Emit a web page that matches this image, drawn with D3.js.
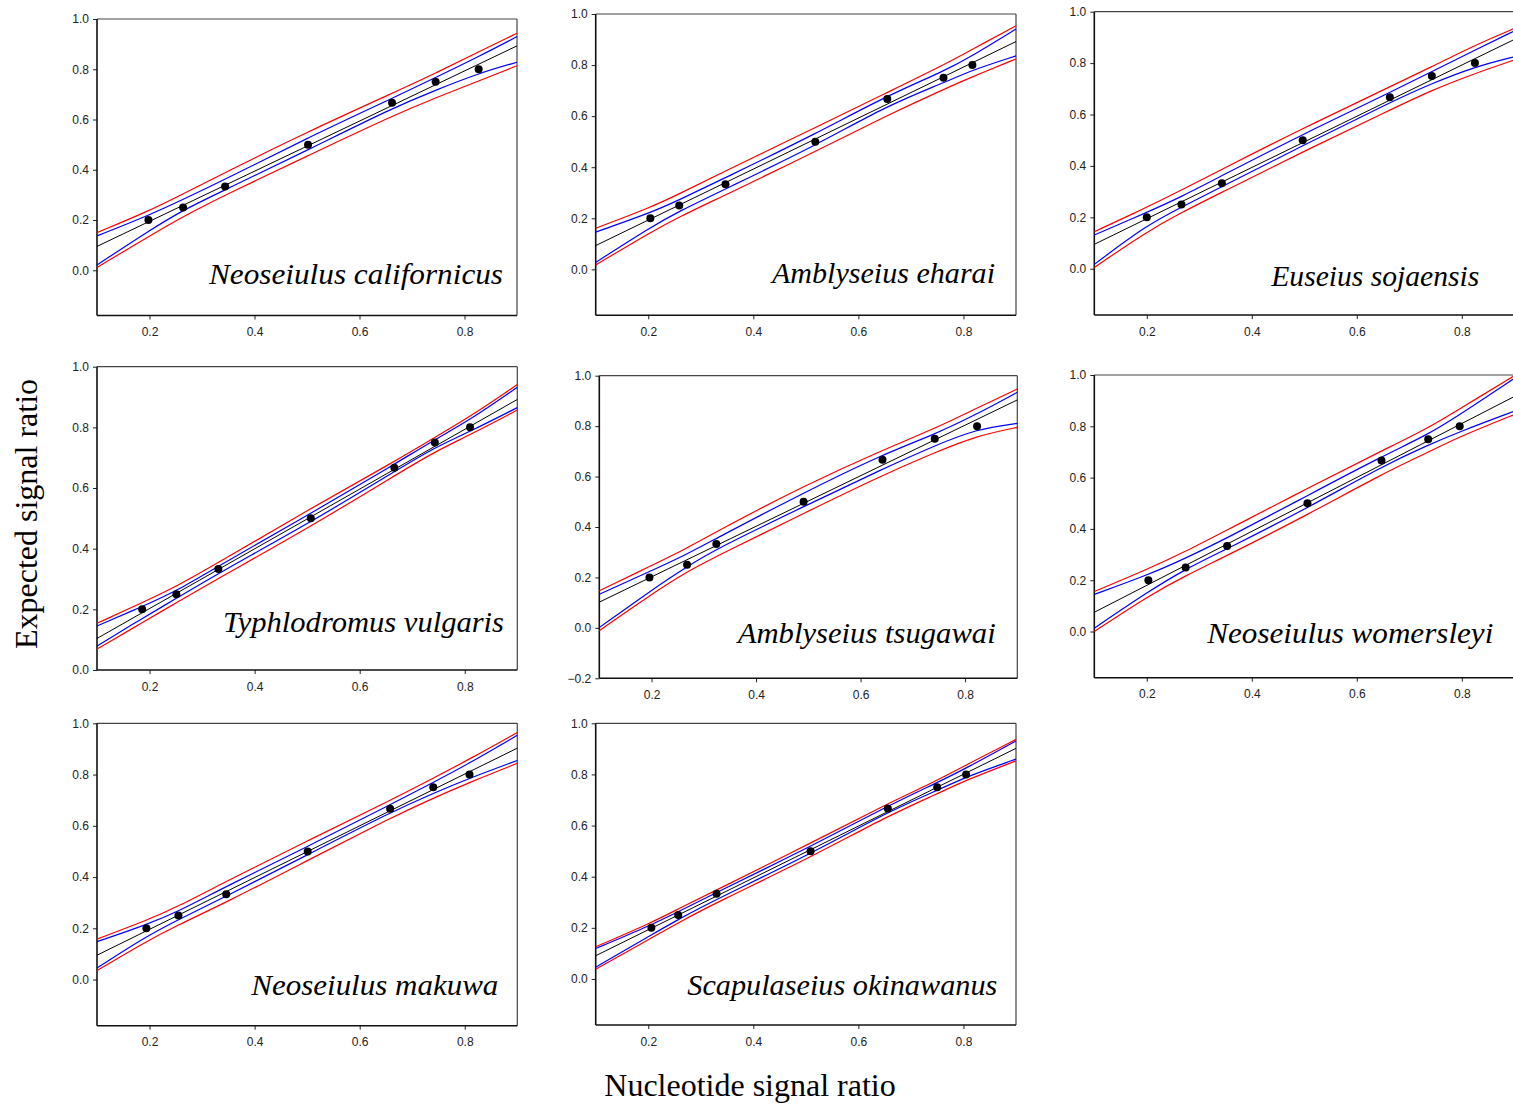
<!DOCTYPE html>
<html>
<head>
<meta charset="utf-8">
<script src="https://cdn.jsdelivr.net/npm/d3@7"></script>
<style>
  body { margin: 0; background: #fff; }
  svg { display: block; }
</style>
</head>
<body>
<svg id="chart" width="1513" height="1111"></svg>
<script>
// ---------------- DATA ----------------
const species = [
  "Neoseiulus californicus", "Amblyseius eharai", "Euseius sojaensis",
  "Typhlodromus vulgaris", "Amblyseius tsugawai", "Neoseiulus womersleyi",
  "Neoseiulus makuwa", "Scapulaseius okinawanus"
];

// expected signal ratio (y of the points, same for all species)
const expected = [0.2, 0.25, 0.333, 0.5, 0.667, 0.75, 0.8];

// nucleotide signal ratio (x of the points) per species
const nucleotide = [
  [0.198, 0.264, 0.344, 0.502, 0.662, 0.745, 0.827],
  [0.204, 0.259, 0.347, 0.518, 0.655, 0.762, 0.817],
  [0.200, 0.266, 0.343, 0.497, 0.663, 0.743, 0.825],
  [0.186, 0.251, 0.331, 0.507, 0.666, 0.743, 0.810],
  [0.196, 0.268, 0.324, 0.491, 0.642, 0.742, 0.823],
  [0.203, 0.274, 0.353, 0.506, 0.647, 0.736, 0.796],
  [0.194, 0.255, 0.346, 0.501, 0.658, 0.740, 0.809],
  [0.206, 0.257, 0.330, 0.509, 0.656, 0.750, 0.805]
];

// x range of the fitted curves
const xStart = 0.1, xEnd = 0.9;

// regression line: value at xStart and at xEnd
const fitLine = [
  [0.095, 0.893], [0.093, 0.892], [0.095, 0.892], [0.104, 0.892],
  [0.102, 0.904], [0.075, 0.916], [0.095, 0.903], [0.091, 0.902]
];

// bands, read at xStart, at each point's x, and at xEnd
const predUpper = [ // red, upper
  [0.150, 0.235, 0.304, 0.389, 0.552, 0.704, 0.784, 0.870, 0.943],
  [0.161, 0.242, 0.295, 0.386, 0.555, 0.693, 0.800, 0.862, 0.954],
  [0.144, 0.239, 0.306, 0.387, 0.546, 0.708, 0.786, 0.870, 0.935],
  [0.154, 0.222, 0.275, 0.354, 0.533, 0.687, 0.767, 0.835, 0.941],
  [0.147, 0.243, 0.316, 0.382, 0.563, 0.705, 0.790, 0.872, 0.947],
  [0.156, 0.244, 0.312, 0.396, 0.558, 0.704, 0.793, 0.868, 0.997],
  [0.158, 0.230, 0.286, 0.383, 0.542, 0.699, 0.786, 0.860, 0.964],
  [0.126, 0.220, 0.274, 0.348, 0.531, 0.687, 0.776, 0.837, 0.937]
];
const confUpper = [ // blue, upper
  [0.137, 0.218, 0.282, 0.362, 0.528, 0.684, 0.767, 0.850, 0.930],
  [0.146, 0.221, 0.272, 0.359, 0.530, 0.681, 0.775, 0.836, 0.941],
  [0.131, 0.219, 0.280, 0.362, 0.523, 0.686, 0.767, 0.851, 0.925],
  [0.145, 0.209, 0.260, 0.343, 0.516, 0.678, 0.760, 0.824, 0.932],
  [0.133, 0.223, 0.292, 0.355, 0.536, 0.688, 0.767, 0.848, 0.934],
  [0.145, 0.221, 0.286, 0.364, 0.530, 0.682, 0.768, 0.845, 0.987],
  [0.148, 0.214, 0.266, 0.364, 0.519, 0.682, 0.769, 0.844, 0.953],
  [0.119, 0.211, 0.263, 0.338, 0.518, 0.677, 0.768, 0.824, 0.931]
];
const confLower = [ // blue, lower
  [0.021, 0.156, 0.240, 0.320, 0.479, 0.645, 0.717, 0.784, 0.828],
  [0.027, 0.164, 0.228, 0.315, 0.484, 0.642, 0.730, 0.781, 0.836],
  [0.017, 0.170, 0.240, 0.319, 0.479, 0.647, 0.721, 0.786, 0.825],
  [0.079, 0.170, 0.236, 0.319, 0.487, 0.654, 0.734, 0.786, 0.865],
  [0.001, 0.144, 0.243, 0.313, 0.481, 0.630, 0.723, 0.789, 0.811],
  [0.013, 0.156, 0.244, 0.322, 0.481, 0.643, 0.727, 0.779, 0.859],
  [0.045, 0.169, 0.234, 0.325, 0.487, 0.652, 0.727, 0.786, 0.855],
  [0.046, 0.172, 0.233, 0.312, 0.489, 0.654, 0.737, 0.791, 0.860]
];
const predLower = [ // red, lower
  [0.011, 0.134, 0.214, 0.300, 0.456, 0.614, 0.687, 0.753, 0.814],
  [0.017, 0.145, 0.206, 0.291, 0.461, 0.603, 0.705, 0.754, 0.824],
  [0.005, 0.144, 0.219, 0.297, 0.455, 0.617, 0.695, 0.760, 0.812],
  [0.069, 0.156, 0.222, 0.302, 0.473, 0.640, 0.720, 0.775, 0.857],
  [-0.011, 0.128, 0.223, 0.283, 0.454, 0.606, 0.695, 0.762, 0.795],
  [0.000, 0.139, 0.218, 0.296, 0.455, 0.613, 0.699, 0.760, 0.846],
  [0.035, 0.149, 0.214, 0.301, 0.465, 0.630, 0.708, 0.769, 0.844],
  [0.038, 0.160, 0.220, 0.299, 0.475, 0.638, 0.724, 0.778, 0.853]
];

// axes
const yMin = [-0.18, -0.18, -0.18, 0, -0.2, -0.18, -0.18, -0.18];
const yTicks = [
  [0, 0.2, 0.4, 0.6, 0.8, 1.0], [0, 0.2, 0.4, 0.6, 0.8, 1.0], [0, 0.2, 0.4, 0.6, 0.8, 1.0],
  [0, 0.2, 0.4, 0.6, 0.8, 1.0], [-0.2, 0, 0.2, 0.4, 0.6, 0.8, 1.0], [0, 0.2, 0.4, 0.6, 0.8, 1.0],
  [0, 0.2, 0.4, 0.6, 0.8, 1.0], [0, 0.2, 0.4, 0.6, 0.8, 1.0]
];
const xTicks = [0.2, 0.4, 0.6, 0.8];
const xTitle = "Nucleotide signal ratio";
const yTitle = "Expected signal ratio";

// ---------------- LAYOUT ----------------
// frame: left, right, top, bottom (px)
const frames = [
  [97, 517, 19, 315.5], [595.7, 1016, 14, 315.3], [1094.3, 1514.3, 11.7, 315],
  [97, 517.3, 366.7, 670], [599.3, 1017.3, 375.7, 678.3], [1094.3, 1514.3, 375, 677.7],
  [97, 517.3, 723.3, 1025.7], [595.7, 1016, 723.3, 1025]
];
// species label: right end x, baseline y, width
const labelPos = [
  [503, 284, 294], [995, 283.3, 223], [1479.3, 286, 208],
  [504, 631.7, 281], [995.7, 642.7, 258], [1493.3, 642.7, 286],
  [498.3, 995, 247], [997.3, 995, 310]
];

const svg = d3.select("#chart");
const fmt = d3.format(".1f");

species.forEach((name, i) => {
  const [l, r, t, b] = frames[i];
  const x = d3.scaleLinear().domain([xStart, xEnd]).range([l, r]);
  const y = d3.scaleLinear().domain([yMin[i], 1.0]).range([b, t]);
  const g = svg.append("g");

  // frame top/right
  g.append("line").attr("x1", l).attr("x2", r).attr("y1", t).attr("y2", t)
    .attr("stroke", "#444").attr("stroke-width", 1.2);
  g.append("line").attr("x1", r).attr("x2", r).attr("y1", t).attr("y2", b)
    .attr("stroke", "#444").attr("stroke-width", 1.2);

  // axes
  const ya = g.append("g").attr("transform", `translate(${l},0)`)
    .call(d3.axisLeft(y).tickValues(yTicks[i]).tickFormat(fmt).tickSize(4).tickSizeOuter(0).tickPadding(4));
  const xa = g.append("g").attr("transform", `translate(0,${b})`)
    .call(d3.axisBottom(x).tickValues(xTicks).tickFormat(fmt).tickSize(4).tickSizeOuter(0).tickPadding(8));
  [ya, xa].forEach(a => {
    a.select(".domain").remove();
    a.selectAll(".tick line").attr("stroke", "#222").attr("stroke-width", 1);
    a.selectAll(".tick text").attr("font-family", "'Liberation Sans', Arial, sans-serif")
      .attr("font-size", 12).attr("fill", "#222");
  });
  g.append("line").attr("x1", l).attr("x2", l).attr("y1", t).attr("y2", b)
    .attr("stroke", "#111").attr("stroke-width", 1.6);
  g.append("line").attr("x1", l).attr("x2", r).attr("y1", b).attr("y2", b)
    .attr("stroke", "#111").attr("stroke-width", 1.6);

  const bandX = [xStart, ...nucleotide[i], xEnd];
  const smooth = d3.line().x(d => x(d[0])).y(d => y(d[1])).curve(d3.curveBasis);
  const straight = d3.line().x(d => x(d[0])).y(d => y(d[1]));
  const series = [
    [predUpper[i], "#ff0000"], [predLower[i], "#ff0000"],
    [confUpper[i], "#0000ff"], [confLower[i], "#0000ff"]
  ];
  series.forEach(([vals, col]) => {
    g.append("path").datum(bandX.map((xv, k) => [xv, vals[k]]))
      .attr("d", smooth).attr("fill", "none").attr("stroke", col).attr("stroke-width", 1.2);
  });
  g.append("path").datum([[xStart, fitLine[i][0]], [xEnd, fitLine[i][1]]])
    .attr("d", straight).attr("fill", "none").attr("stroke", "#000").attr("stroke-width", 1);

  g.selectAll("circle.pt").data(nucleotide[i].map((xv, k) => [xv, expected[k]]))
    .enter().append("circle").attr("class", "pt")
    .attr("cx", d => x(d[0])).attr("cy", d => y(d[1])).attr("r", 4).attr("fill", "#000");

  const [lx, ly, lw] = labelPos[i];
  g.append("text").attr("x", lx - lw).attr("y", ly)
    .attr("font-family", "'Liberation Serif', 'Times New Roman', serif")
    .attr("font-style", "italic").attr("font-size", 30).attr("fill", "#000")
    .attr("textLength", lw).attr("lengthAdjust", "spacingAndGlyphs")
    .text(name);
});

svg.append("text").attr("transform", "translate(37,514) rotate(-90)")
  .attr("text-anchor", "middle")
  .attr("font-family", "'Liberation Serif', 'Times New Roman', serif")
  .attr("font-size", 32).attr("fill", "#000").text(yTitle);

svg.append("text").attr("x", 750).attr("y", 1096)
  .attr("text-anchor", "middle")
  .attr("font-family", "'Liberation Serif', 'Times New Roman', serif")
  .attr("font-size", 32).attr("fill", "#000").text(xTitle);
</script>
</body>
</html>
